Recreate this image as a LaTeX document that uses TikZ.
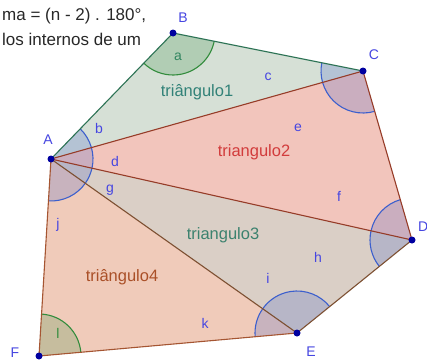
\documentclass[tikz,border=0pt]{standalone}
\usepackage{fontspec}
\setmainfont{Liberation Sans}
\usetikzlibrary{angles}
\definecolor{tonefill}{RGB}{214,224,214}
\definecolor{ttwofill}{RGB}{242,197,188}
\definecolor{tthreefill}{RGB}{218,207,198}
\definecolor{tfourfill}{RGB}{240,203,186}
\definecolor{toneedge}{RGB}{45,115,85}
\definecolor{ttwoedge}{RGB}{150,60,40}
\definecolor{tthreeedge}{RGB}{125,80,50}
\definecolor{tfouredge}{RGB}{165,85,50}
\definecolor{tonetext}{RGB}{50,130,120}
\definecolor{ttwotext}{RGB}{210,60,60}
\definecolor{tthreetext}{RGB}{60,130,110}
\definecolor{tfourtext}{RGB}{170,80,40}
\definecolor{arcblue}{RGB}{60,95,205}
\definecolor{arcgreen}{RGB}{50,140,60}
\definecolor{lblblue}{RGB}{70,70,225}
\definecolor{ptblue}{RGB}{0,0,160}
\definecolor{toptext}{RGB}{40,40,40}
\begin{document}
\begin{tikzpicture}[x=1pt,y=1pt,
  edge/.style={line width=1.1pt},
  bang/.style={draw=arcblue, line width=1.1pt, fill=arcblue, fill opacity=0.22, angle radius=42pt},
  gang/.style={draw=arcgreen, line width=1.1pt, fill=arcgreen, fill opacity=0.22, angle radius=42pt},
  alabel/.style={text=lblblue, font=\fontsize{14}{14}\selectfont, inner sep=0},
  plabel/.style={text=lblblue, font=\fontsize{14}{14}\selectfont, inner sep=0},
  tlabel/.style={font=\fontsize{16.5}{16.5}\selectfont, inner sep=0},
  toplabel/.style={anchor=base west, inner sep=0, text=toptext, font=\fontsize{17}{17}\selectfont},
  pt/.style={circle, fill=ptblue, inner sep=0, minimum size=7pt}]
\useasboundingbox (0,0) rectangle (427,360);
\fill[white] (0,0) rectangle (427,360);
\coordinate (A) at (51,201);
\coordinate (B) at (173,327);
\coordinate (C) at (363,289);
\coordinate (D) at (412,120);
\coordinate (E) at (297,27);
\coordinate (F) at (39,4);
% triangle fills
\fill[tonefill] (A) -- (B) -- (C) -- cycle;
\fill[ttwofill] (A) -- (C) -- (D) -- cycle;
\fill[tthreefill] (A) -- (D) -- (E) -- cycle;
\fill[tfourfill] (A) -- (E) -- (F) -- cycle;
% angles
\pic[gang] {angle = A--B--C};
\pic[bang] {angle = C--A--B};
\pic[bang] {angle = D--A--C};
\pic[bang] {angle = E--A--D};
\pic[bang] {angle = F--A--E};
\pic[bang] {angle = B--C--A};
\pic[bang] {angle = A--C--D};
\pic[bang] {angle = C--D--A};
\pic[bang] {angle = A--D--E};
\pic[bang] {angle = D--E--A};
\pic[bang] {angle = A--E--F};
\pic[gang] {angle = E--F--A};
% edges
\draw[edge, toneedge] (A) -- (B) -- (C);
\draw[edge, ttwoedge] (A) -- (C) -- (D) -- cycle;
\draw[edge, tthreeedge] (D) -- (E) -- (A);
\draw[edge, tfouredge] (E) -- (F) -- (A);
% angle labels
\node[alabel, text=tonetext!60!arcgreen] (la) at (178,303) {a};
\node[alabel] (lb) at (99,232) {b};
\node[alabel] (lc) at (268,283) {c};
\node[alabel] (ld) at (115,199) {d};
\node[alabel] (le) at (298,232) {e};
\node[alabel] (lf) at (339,164) {f};
\node[alabel] (lg) at (110,170) {g};
\node[alabel] (lh) at (318,103) {h};
\node[alabel] (li) at (268,82) {i};
\node[alabel] (lj) at (58,135) {j};
\node[alabel] (lk) at (205,37) {k};
\node[alabel, text=arcgreen] (ll) at (58,27) {l};
% triangle labels
\node[tlabel, text=tonetext] (t1) at (197,268) {triângulo1};
\node[tlabel, text=ttwotext] (t2) at (254,208) {triangulo2};
\node[tlabel, text=tthreetext] (t3) at (223,125) {triangulo3};
\node[tlabel, text=tfourtext] (t4) at (122,83) {triângulo4};
% points
\node[pt] (pA) at (A) {};
\node[pt] (pB) at (B) {};
\node[pt] (pC) at (C) {};
\node[pt] (pD) at (D) {};
\node[pt] (pE) at (E) {};
\node[pt] (pF) at (F) {};
\node[plabel] (nA) at (48,220) {A};
\node[plabel] (nB) at (183,342) {B};
\node[plabel] (nC) at (374,305) {C};
\node[plabel, anchor=west] (nD) at (418,133) {D};
\node[plabel] (nE) at (311,8) {E};
\node[plabel] (nF) at (15,7) {F};
% top text
\node[toplabel] (txt1) at (2,340) {ma = (n - 2) . 180°,};
\node[toplabel] (txt2) at (2,315) {los internos de um};
\end{tikzpicture}
\end{document}
